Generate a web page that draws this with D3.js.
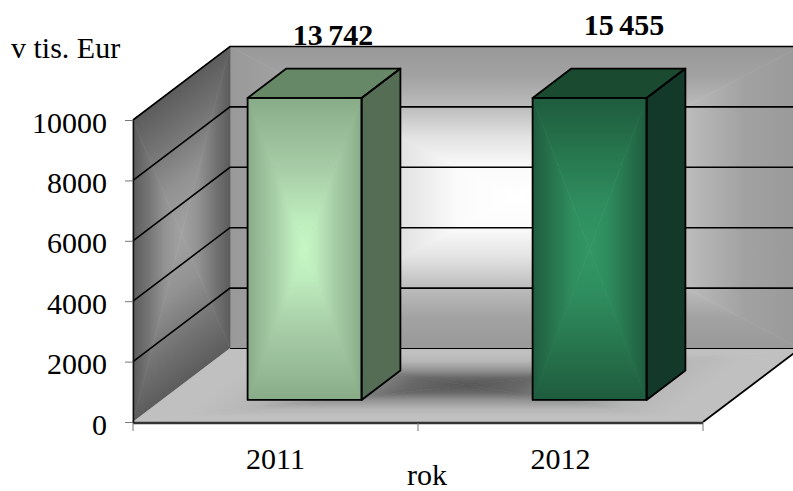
<!DOCTYPE html>
<html>
<head>
<meta charset="utf-8">
<script src="https://cdnjs.cloudflare.com/ajax/libs/d3/7.8.5/d3.min.js"></script>
<style>
  html, body { margin: 0; padding: 0; background: #fff; }
  svg { display: block; font-family: "Liberation Serif", serif; }
</style>
</head>
<body>
<svg id="chart" width="793" height="491"></svg>
<script>
// Annual figures in thousands of euros; the axis stops at 10000, so both columns reach its top.
const years = ["2011", "2012"];
const revenue = [13742, 15455];
const revenueLabels = ["13 742", "15 455"];
const yTicks = [0, 2000, 4000, 6000, 8000, 10000];

// Colour ramps run from the centre of a surface (t = 0) to its border (t = 1).
const backWallRamp = [[0, "#ffffff"], [0.2, "#fbfbfb"], [0.4, "#e2e2e2"], [0.6, "#bcbcbc"], [0.8, "#a2a2a2"], [1, "#999999"]];
const sideWallRamp = [[0, "#a2a2a2"], [0.35, "#929292"], [0.7, "#737373"], [1, "#5c5c5c"]];
const floorRamp = [[0, "#565656"], [0.2, "#686868"], [0.4, "#929292"], [0.65, "#b6b6b6"], [0.85, "#c0c0c0"], [1, "#c0c0c0"]];
const frontRamps = [
  [[0, "#c6f8c6"], [0.2, "#bdecbd"], [0.5, "#a9cfa9"], [0.85, "#92b792"], [1, "#88ab88"]],
  [[0, "#329764"], [0.3, "#2f8d5e"], [0.6, "#28784f"], [1, "#1e5c3e"]]
];
const topFaces = ["#678867", "#1a4a30"];
const sideFaces = ["#556c55", "#13392a"];

const svg = d3.select("#chart");
const defs = svg.append("defs");

const x = d3.scaleBand().domain(years).range([133, 703]).paddingInner(0.6).paddingOuter(0.3);
const xAxisScale = d3.scaleBand().domain(years).range([133, 703]);
const y = d3.scaleLinear().domain([0, 10000]).range([422, 120]).clamp(true);
const depthX = d3.scaleLinear().domain([0, 1]).range([0, 97]);
const depthY = d3.scaleLinear().domain([0, 1]).range([0, -73.5]);

// Oblique projection: data height plus a depth between the front (0) and back (1) of the box.
const project = (px, value, depth) => [px + depthX(depth), y(value) + depthY(depth)];
const polygonPath = pts => "M" + pts.map(p => p.join(",")).join("L") + "Z";

let gradientId = 0;

// Rectangular "path" gradient: one wedge per edge, each shaded from that edge toward the centre.
function shadeSurface(parent, corners, ramp) {
  const cx = d3.mean(corners, c => c[0]);
  const cy = d3.mean(corners, c => c[1]);
  corners.forEach((a, i) => {
    const b = corners[(i + 1) % corners.length];
    const ex = b[0] - a[0], ey = b[1] - a[1];
    const k = ((cx - a[0]) * ex + (cy - a[1]) * ey) / (ex * ex + ey * ey);
    const id = "wedge" + (gradientId++);
    const grad = defs.append("linearGradient").attr("id", id)
      .attr("gradientUnits", "userSpaceOnUse")
      .attr("x1", a[0] + k * ex).attr("y1", a[1] + k * ey)
      .attr("x2", cx).attr("y2", cy);
    ramp.slice().reverse().forEach(s => {
      grad.append("stop").attr("offset", 1 - s[0]).attr("stop-color", s[1]);
    });
    parent.append("path")
      .attr("d", polygonPath([a, b, [cx, cy]]))
      .attr("fill", `url(#${id})`)
      .attr("stroke", `url(#${id})`)
      .attr("stroke-width", 0.7);
  });
}

const [x0, x1] = xAxisScale.range();
const maxV = y.domain()[1];

// Box walls and floor
const box = svg.append("g");
shadeSurface(box, [project(x0, maxV, 1), project(x1, maxV, 1), project(x1, 0, 1), project(x0, 0, 1)], backWallRamp);
shadeSurface(box, [project(x0, maxV, 0), project(x0, maxV, 1), project(x0, 0, 1), project(x0, 0, 0)], sideWallRamp);
shadeSurface(box, [project(x0, 0, 0), project(x0, 0, 1), project(x1, 0, 1), project(x1, 0, 0)], floorRamp);

// Upper edge of the side wall
box.append("line")
  .attr("x1", project(x0, maxV, 0)[0]).attr("y1", project(x0, maxV, 0)[1])
  .attr("x2", project(x0, maxV, 1)[0]).attr("y2", project(x0, maxV, 1)[1])
  .attr("stroke", "#6a6a6a").attr("stroke-width", 1);

// Gridlines wrap from the side wall across the back wall
const grid = svg.append("g").attr("fill", "none").attr("stroke", "#000");
yTicks.forEach(v => {
  const pts = v === 0
    ? [project(x0, v, 1), project(x1, v, 1)]
    : [project(x0, v, 0), project(x0, v, 1), project(x1, v, 1)];
  grid.append("path")
    .attr("d", d3.line()(pts))
    .attr("stroke-width", v === 0 ? 1 : 1.6);
});

// Front and right floor edges
svg.append("line")
  .attr("x1", x0).attr("y1", y(0) + 1).attr("x2", x1).attr("y2", y(0) + 1)
  .attr("stroke", "#333").attr("stroke-width", 2.4);
svg.append("line")
  .attr("x1", project(x1, 0, 0)[0]).attr("y1", project(x1, 0, 0)[1])
  .attr("x2", project(x1, 0, 1)[0]).attr("y2", project(x1, 0, 1)[1])
  .attr("stroke", "#000").attr("stroke-width", 1.8);

// Columns stand between these two depths
const nearDepth = 0.3, farDepth = 0.7;
const columns = svg.append("g").selectAll("g")
  .data(years.map((year, i) => ({ year, value: revenue[i], i })))
  .join("g");

columns.each(function (d) {
  const g = d3.select(this);
  const left = x(d.year), right = left + x.bandwidth();
  const front = [project(left, d.value, nearDepth), project(right, d.value, nearDepth),
                 project(right, 0, nearDepth), project(left, 0, nearDepth)];
  const side = [project(right, d.value, nearDepth), project(right, d.value, farDepth),
                project(right, 0, farDepth), project(right, 0, nearDepth)];
  const top = [project(left, d.value, nearDepth), project(left, d.value, farDepth),
               project(right, d.value, farDepth), project(right, d.value, nearDepth)];

  g.append("path").attr("d", polygonPath(side)).attr("fill", sideFaces[d.i]);
  g.append("path").attr("d", polygonPath(top)).attr("fill", topFaces[d.i]);
  shadeSurface(g, front, frontRamps[d.i]);
  [front, side, top].forEach(face => {
    g.append("path").attr("d", polygonPath(face))
      .attr("fill", "none").attr("stroke", "#000").attr("stroke-width", 1.8)
      .attr("stroke-linejoin", "round");
  });
});

// Axes
const yAxis = svg.append("g")
  .attr("transform", `translate(${x0},0)`)
  .call(d3.axisLeft(y).tickValues(yTicks).tickFormat(d3.format("d")).tickSize(8).tickSizeOuter(0).tickPadding(18));
yAxis.select(".domain").attr("stroke", "#111").attr("stroke-width", 1.5);
yAxis.selectAll(".tick line").attr("stroke", "#777");
yAxis.selectAll("text").attr("font-size", 30).attr("font-family", "Liberation Serif").attr("fill", "#000").attr("dy", "0.4em");

const xAxis = svg.append("g")
  .attr("transform", `translate(0,${y(0)})`)
  .call(d3.axisBottom(xAxisScale).tickSize(0).tickPadding(26));
xAxis.select(".domain").remove();
xAxis.selectAll("text").attr("font-size", 30).attr("font-family", "Liberation Serif").attr("fill", "#000").attr("dy", "0.71em");

// Category boundary ticks below the floor
svg.append("g").selectAll("line")
  .data([...years.map(c => xAxisScale(c)), x1])
  .join("line")
  .attr("x1", d => d).attr("x2", d => d)
  .attr("y1", y(0) + 1).attr("y2", y(0) + 9)
  .attr("stroke", "#777");

// Value labels and axis titles
const labelSpots = [[333, 45], [624, 35]];
svg.append("g").selectAll("text")
  .data(revenueLabels)
  .join("text")
  .attr("x", (d, i) => labelSpots[i][0])
  .attr("y", (d, i) => labelSpots[i][1])
  .attr("text-anchor", "middle")
  .attr("font-size", 30).attr("font-weight", "bold")
  .attr("word-spacing", "-2px")
  .text(d => d);

svg.append("text").attr("x", 11).attr("y", 58).attr("font-size", 30).text("v tis. Eur");
svg.append("text").attr("x", 427).attr("y", 484.5).attr("text-anchor", "middle").attr("font-size", 30).text("rok");
</script>
</body>
</html>
